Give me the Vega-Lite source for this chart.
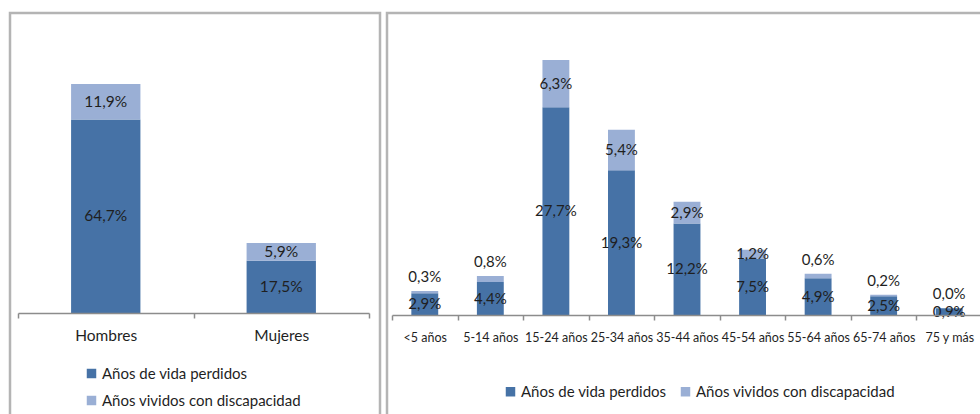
{
  "$schema": "https://vega.github.io/schema/vega-lite/v6.json",
  "padding": {"left": 8, "top": 11, "right": 0, "bottom": 0},
  "spacing": 3,
  "config": {
    "font": "Lato",
    "view": {"stroke": "#b4b4b4", "strokeWidth": 2.5},
    "axis": {"domainColor": "#8c8c8c", "tickColor": "#8c8c8c", "domainWidth": 1.5, "tickWidth": 1.5, "labelColor": "#1f1f1f", "labelFont": "Lato"},
    "legend": {"labelFont": "Lato", "labelColor": "#1f1f1f", "labelFontSize": 15, "labelLimit": 400, "symbolType": "square", "symbolSize": 90, "symbolStrokeWidth": 0, "title": null}
  },
  "datasets": {
    "sexo": [
      {"sexo": "Hombres", "tipo": "Años de vida perdidos", "orden": 1, "valor": 64.7},
      {"sexo": "Hombres", "tipo": "Años vividos con discapacidad", "orden": 2, "valor": 11.9},
      {"sexo": "Mujeres", "tipo": "Años de vida perdidos", "orden": 1, "valor": 17.5},
      {"sexo": "Mujeres", "tipo": "Años vividos con discapacidad", "orden": 2, "valor": 5.9}
    ],
    "edad": [
      {"edad": "<5 años", "tipo": "Años de vida perdidos", "orden": 1, "valor": 2.9},
      {"edad": "<5 años", "tipo": "Años vividos con discapacidad", "orden": 2, "valor": 0.3},
      {"edad": "5-14 años", "tipo": "Años de vida perdidos", "orden": 1, "valor": 4.4},
      {"edad": "5-14 años", "tipo": "Años vividos con discapacidad", "orden": 2, "valor": 0.8},
      {"edad": "15-24 años", "tipo": "Años de vida perdidos", "orden": 1, "valor": 27.7},
      {"edad": "15-24 años", "tipo": "Años vividos con discapacidad", "orden": 2, "valor": 6.3},
      {"edad": "25-34 años", "tipo": "Años de vida perdidos", "orden": 1, "valor": 19.3},
      {"edad": "25-34 años", "tipo": "Años vividos con discapacidad", "orden": 2, "valor": 5.4},
      {"edad": "35-44 años", "tipo": "Años de vida perdidos", "orden": 1, "valor": 12.2},
      {"edad": "35-44 años", "tipo": "Años vividos con discapacidad", "orden": 2, "valor": 2.9},
      {"edad": "45-54 años", "tipo": "Años de vida perdidos", "orden": 1, "valor": 7.5},
      {"edad": "45-54 años", "tipo": "Años vividos con discapacidad", "orden": 2, "valor": 1.2},
      {"edad": "55-64 años", "tipo": "Años de vida perdidos", "orden": 1, "valor": 4.9},
      {"edad": "55-64 años", "tipo": "Años vividos con discapacidad", "orden": 2, "valor": 0.6},
      {"edad": "65-74 años", "tipo": "Años de vida perdidos", "orden": 1, "valor": 2.5},
      {"edad": "65-74 años", "tipo": "Años vividos con discapacidad", "orden": 2, "valor": 0.2},
      {"edad": "75 y más", "tipo": "Años de vida perdidos", "orden": 1, "valor": 0.9},
      {"edad": "75 y más", "tipo": "Años vividos con discapacidad", "orden": 2, "valor": 0.0}
    ]
  },
  "resolve": {"legend": {"color": "independent"}},
  "hconcat": [
    {
      "width": 370,
      "height": 410,
      "data": {"name": "sexo"},
      "transform": [
        {"stack": "valor", "groupby": ["sexo"], "sort": [{"field": "orden"}], "as": ["v0", "v1"]},
        {"calculate": "(datum.v0 + datum.v1) / 2", "as": "mid"},
        {"calculate": "replace(format(datum.valor, '.1f'), '.', ',') + '%'", "as": "etiqueta"}
      ],
      "encoding": {
        "x": {"field": "sexo", "type": "nominal", "sort": null,
          "scale": {"range": [8, 359], "paddingInner": 0, "paddingOuter": 0},
          "axis": {"title": null, "labelAngle": 0, "tickBand": "extent", "tickSize": 5, "labelPadding": 10, "labelFontSize": 15.5, "offset": -110, "zindex": 1}}
      },
      "layer": [
        {
          "mark": {"type": "bar", "width": {"band": 0.395}},
          "encoding": {
            "y": {"field": "v0", "type": "quantitative", "scale": {"domain": [0, 100], "range": [300, 1]}, "axis": null},
            "y2": {"field": "v1"},
            "color": {"field": "tipo", "type": "nominal",
              "scale": {"domain": ["Años de vida perdidos", "Años vividos con discapacidad"], "range": ["#4672A6", "#9AAFD5"]},
              "legend": {"orient": "none", "direction": "vertical", "legendX": 74, "legendY": 353, "rowPadding": 11, "labelOffset": 3}}
          }
        },
        {
          "mark": {"type": "text", "fontSize": 15.5, "color": "#1f1f1f", "baseline": "middle"},
          "encoding": {
            "y": {"field": "mid", "type": "quantitative"},
            "text": {"field": "etiqueta"}
          }
        }
      ]
    },
    {
      "width": 600,
      "height": 410,
      "data": {"name": "edad"},
      "transform": [
        {"stack": "valor", "groupby": ["edad"], "sort": [{"field": "orden"}], "as": ["v0", "v1"]},
        {"calculate": "(datum.v0 + datum.v1) / 2", "as": "mid"},
        {"calculate": "replace(format(datum.valor, '.1f'), '.', ',') + '%'", "as": "etiqueta"}
      ],
      "encoding": {
        "x": {"field": "edad", "type": "nominal", "sort": null,
          "scale": {"range": [5, 595], "paddingInner": 0, "paddingOuter": 0},
          "axis": {"title": null, "labelAngle": 0, "tickBand": "extent", "tickSize": 5, "labelPadding": 11, "labelFontSize": 12.5, "offset": -108, "zindex": 1}}
      },
      "layer": [
        {
          "mark": {"type": "bar", "width": {"band": 0.41}},
          "encoding": {
            "y": {"field": "v0", "type": "quantitative", "scale": {"domain": [0, 40], "range": [302, 2]}, "axis": null},
            "y2": {"field": "v1"},
            "color": {"field": "tipo", "type": "nominal",
              "scale": {"domain": ["Años de vida perdidos", "Años vividos con discapacidad"], "range": ["#4672A6", "#9AAFD5"]},
              "legend": {"orient": "none", "direction": "horizontal", "legendX": 116, "legendY": 371, "columnPadding": 11, "labelOffset": 3}}
          }
        },
        {
          "transform": [{"filter": "datum.orden == 1 || datum.valor >= 1"}],
          "mark": {"type": "text", "fontSize": 15, "color": "#1f1f1f", "baseline": "middle"},
          "encoding": {
            "y": {"field": "mid", "type": "quantitative"},
            "text": {"field": "etiqueta"}
          }
        },
        {
          "transform": [{"filter": "datum.orden == 2 && datum.valor < 1"}],
          "mark": {"type": "text", "fontSize": 15, "color": "#1f1f1f", "baseline": "bottom", "dy": -6},
          "encoding": {
            "y": {"field": "v1", "type": "quantitative"},
            "text": {"field": "etiqueta"}
          }
        }
      ]
    }
  ]
}
